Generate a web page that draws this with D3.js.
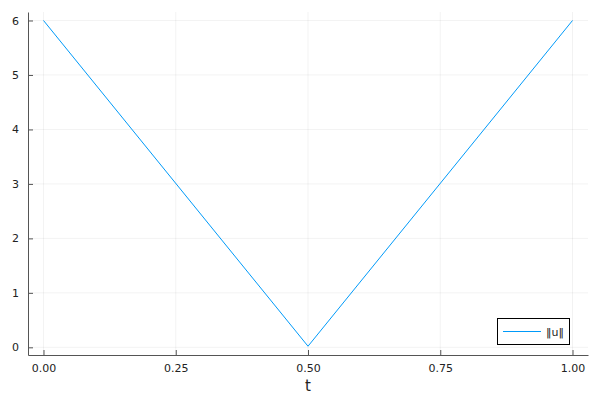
<!DOCTYPE html>
<html><head><meta charset="utf-8">
<script src="https://cdn.jsdelivr.net/npm/d3@7"></script>
<style>body{margin:0;background:#fff}svg{display:block;font-family:"DejaVu Sans",sans-serif}</style>
</head><body><svg id="c" width="600" height="400"></svg>
<script>
const tValues = [0, 0.5, 1.0];
const uNorm = [6.0, 0.02, 6.0];
const xTicks = [0, 0.25, 0.5, 0.75, 1.0];
const yTicks = [0, 1, 2, 3, 4, 5, 6];
const seriesName = "‖u‖";
const xLabel = "t";

const svg = d3.select("#c");
const L = 28, R = 588, T = 12, B = 355;
const x = d3.scaleLinear().domain([-0.0293, 1.0293]).range([L, R]);
const y = d3.scaleLinear().domain([-0.141, 6.156]).range([B, T]);

// grid
svg.append("g").selectAll("line").data(xTicks).join("line")
  .attr("x1", d => x(d)).attr("x2", d => x(d)).attr("y1", T).attr("y2", B)
  .attr("stroke", "#000").attr("stroke-opacity", 0.1).attr("stroke-width", 0.5);
svg.append("g").selectAll("line").data(yTicks).join("line")
  .attr("y1", d => y(d)).attr("y2", d => y(d)).attr("x1", L).attr("x2", R)
  .attr("stroke", "#000").attr("stroke-opacity", 0.1).attr("stroke-width", 0.5);

// axes
const xAxis = d3.axisBottom(x).tickValues(xTicks).tickFormat(d3.format(".2f")).tickSize(-5).tickSizeOuter(0).tickPadding(9);
const gx = svg.append("g").attr("transform", `translate(0,${B})`).call(xAxis);
const yAxis = d3.axisLeft(y).tickValues(yTicks).tickFormat(d3.format("d")).tickSize(-5).tickSizeOuter(0).tickPadding(9);
const gy = svg.append("g").attr("transform", `translate(${L},0)`).call(yAxis);
[gx, gy].forEach(g => {
  g.select(".domain").attr("stroke", "#555").attr("stroke-width", 1);
  g.selectAll(".tick line").attr("stroke", "#555");
  g.selectAll(".tick text").attr("fill", "#222").attr("font-size", 11).attr("font-family", "DejaVu Sans, sans-serif");
});

svg.append("text").attr("x", x(0.5)).attr("y", 391).attr("text-anchor", "middle")
  .attr("font-size", 15).attr("fill", "#222").text(xLabel);

// line
const pts = tValues.map((t, i) => [t, uNorm[i]]);
svg.append("path").datum(pts)
  .attr("d", d3.line().x(d => x(d[0])).y(d => y(d[1])))
  .attr("fill", "none").attr("stroke", "#009af9").attr("stroke-width", 1);

// legend
const lg = svg.append("g");
lg.append("rect").attr("x", 497.5).attr("y", 318.5).attr("width", 72).attr("height", 26)
  .attr("fill", "#fff").attr("stroke", "#000").attr("stroke-width", 1);
lg.append("line").attr("x1", 503).attr("x2", 541).attr("y1", 331.5).attr("y2", 331.5)
  .attr("stroke", "#009af9").attr("stroke-width", 1);
lg.append("text").attr("x", 546).attr("y", 335.5).attr("font-size", 11).attr("fill", "#222").text(seriesName);
</script></body></html>
